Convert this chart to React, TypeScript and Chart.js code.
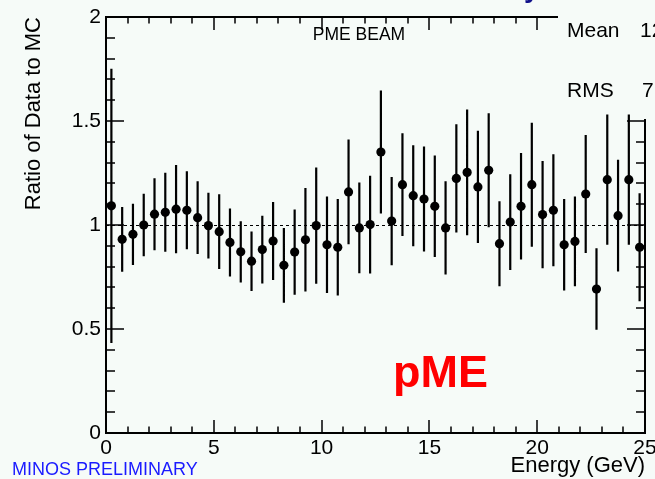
import React, { useEffect, useRef } from "react";
import { Chart, registerables } from "chart.js";

Chart.register(...registerables);

// Bin centres (GeV)
const energy = [
  0.25, 0.75, 1.25, 1.75, 2.25, 2.75, 3.25, 3.75, 4.25, 4.75,
  5.25, 5.75, 6.25, 6.75, 7.25, 7.75, 8.25, 8.75, 9.25, 9.75,
  10.25, 10.75, 11.25, 11.75, 12.25, 12.75, 13.25, 13.75, 14.25, 14.75,
  15.25, 15.75, 16.25, 16.75, 17.25, 17.75, 18.25, 18.75, 19.25, 19.75,
  20.25, 20.75, 21.25, 21.75, 22.25, 22.75, 23.25, 23.75, 24.25, 24.75,
];

// Ratio of data to MC
const ratio = [
  1.092, 0.931, 0.955, 1.0, 1.052, 1.061, 1.076, 1.071, 1.035, 0.997,
  0.968, 0.916, 0.871, 0.826, 0.882, 0.923, 0.806, 0.87, 0.929, 0.997,
  0.905, 0.893, 1.159, 0.986, 1.002, 1.351, 1.019, 1.194, 1.141, 1.125,
  1.09, 0.986, 1.224, 1.253, 1.183, 1.263, 0.91, 1.014, 1.09, 1.194,
  1.05, 1.071, 0.905, 0.921, 1.149, 0.692, 1.218, 1.045, 1.218, 0.893,
];

// Symmetric statistical errors
const errors = [
  0.659, 0.156, 0.147, 0.15, 0.173, 0.19, 0.212, 0.188, 0.175, 0.158,
  0.18, 0.163, 0.147, 0.143, 0.163, 0.187, 0.18, 0.205, 0.249, 0.279,
  0.232, 0.232, 0.252, 0.218, 0.235, 0.296, 0.212, 0.247, 0.243, 0.252,
  0.244, 0.224, 0.26, 0.302, 0.27, 0.274, 0.204, 0.23, 0.256, 0.298,
  0.258, 0.269, 0.22, 0.216, 0.284, 0.196, 0.313, 0.269, 0.313, 0.26,
];

const xLabel = "Energy (GeV)";
const yLabel = "Ratio of Data to MC";
const beamLabel = "PME BEAM";
const bigLabel = "pME";
const prelimLabel = "MINOS PRELIMINARY";
const statNames = ["Mean", "RMS"];
const statValues = ["12.35", "7.12"];

const FONT = "'Liberation Sans', Arial, Helvetica, sans-serif";
const BG = "#f6fbf8";

const decorPlugin = {
  id: "rootDecor",
  beforeDraw(chart: any) {
    const ctx = chart.ctx;
    ctx.save();
    ctx.fillStyle = BG;
    ctx.fillRect(0, 0, chart.width, chart.height);
    ctx.restore();
  },
  beforeDatasetsDraw(chart: any) {
    const ctx = chart.ctx;
    const xs = chart.scales.x;
    const ys = chart.scales.y;
    const a = chart.chartArea;
    ctx.save();
    ctx.strokeStyle = "#000";

    // dashed reference line at 1
    const y1 = Math.round(ys.getPixelForValue(1)) + 0.5;
    ctx.lineWidth = 1;
    ctx.setLineDash([3, 3]);
    ctx.beginPath();
    ctx.moveTo(a.left, y1);
    ctx.lineTo(a.right, y1);
    ctx.stroke();
    ctx.setLineDash([]);

    // frame
    ctx.lineWidth = 2;
    ctx.strokeRect(a.left, a.top, a.right - a.left, a.bottom - a.top);

    // x ticks (bottom & top)
    ctx.lineWidth = 1.5;
    ctx.beginPath();
    for (let v = 0; v <= 25; v++) {
      const px = Math.round(xs.getPixelForValue(v));
      const len = v % 5 === 0 ? 13 : 6.5;
      ctx.moveTo(px, a.bottom);
      ctx.lineTo(px, a.bottom - len);
      ctx.moveTo(px, a.top);
      ctx.lineTo(px, a.top + len);
    }
    // y ticks (left & right)
    for (let k = 0; k <= 20; k++) {
      const py = Math.round(ys.getPixelForValue(k / 10));
      const len = k % 5 === 0 ? 18 : 9;
      ctx.moveTo(a.left, py);
      ctx.lineTo(a.left + len, py);
      ctx.moveTo(a.right, py);
      ctx.lineTo(a.right - len, py);
    }
    ctx.stroke();

    // stats box (borderless) covering the top-right corner
    ctx.fillStyle = BG;
    ctx.fillRect(558, 0, chart.width - 558, 119);
    ctx.fillStyle = "#000";
    ctx.font = `21px ${FONT}`;
    ctx.textBaseline = "alphabetic";
    ctx.textAlign = "left";
    ctx.fillText(statNames[0], 567, 37);
    ctx.fillText(statValues[0], 640, 37);
    ctx.fillText(statNames[1], 567, 97);
    ctx.fillText(statValues[1], 642, 97);

    // error bars
    ctx.strokeStyle = "#000";
    ctx.lineWidth = 2.2;
    ctx.beginPath();
    for (let i = 0; i < energy.length; i++) {
      const px = xs.getPixelForValue(energy[i]);
      const lo = Math.max(0, ratio[i] - errors[i]);
      const hi = Math.min(2, ratio[i] + errors[i]);
      ctx.moveTo(px, ys.getPixelForValue(lo));
      ctx.lineTo(px, ys.getPixelForValue(hi));
    }
    ctx.stroke();
    ctx.restore();
  },
  afterDatasetsDraw(chart: any) {
    const ctx = chart.ctx;
    ctx.save();
    ctx.fillStyle = "#000";
    ctx.font = `17.5px ${FONT}`;
    ctx.textAlign = "center";
    ctx.textBaseline = "middle";
    ctx.fillText(beamLabel, 359, 35);

    ctx.fillStyle = "#ff0000";
    ctx.font = `bold 45px ${FONT}`;
    ctx.textAlign = "left";
    ctx.textBaseline = "alphabetic";
    ctx.fillText(bigLabel, 393, 387);

    ctx.fillStyle = "#1a1aff";
    ctx.font = `18px ${FONT}`;
    ctx.textBaseline = "middle";
    ctx.fillText(prelimLabel, 12, 470);

    // fragment of the slide title cut off at the top
    ctx.fillStyle = "#10108a";
    ctx.font = `bold 28px ${FONT}`;
    ctx.textBaseline = "alphabetic";
    ctx.fillText("y", 524, -3);
    ctx.restore();
  },
};

export default function App() {
  const ref = useRef<HTMLCanvasElement | null>(null);

  useEffect(() => {
    if (!ref.current) return;
    const chart = new Chart(ref.current, {
      type: "scatter",
      data: {
        datasets: [
          {
            data: energy.map((x, i) => ({ x, y: ratio[i] })),
            pointRadius: 4.6,
            pointBackgroundColor: "#000",
            pointBorderColor: "#000",
            pointBorderWidth: 0,
            showLine: false,
          },
        ],
      },
      options: {
        responsive: false,
        animation: false,
        devicePixelRatio: 1,
        layout: { padding: { top: 17, right: 10, left: 0, bottom: 0 } },
        plugins: {
          legend: { display: false },
          tooltip: { enabled: false },
        },
        scales: {
          x: {
            type: "linear",
            min: 0,
            max: 25,
            position: "bottom",
            grid: { display: false, drawTicks: false },
            border: { display: false },
            ticks: {
              stepSize: 5,
              padding: 3,
              color: "#000",
              maxRotation: 0,
              autoSkip: false,
              font: { family: FONT, size: 21 },
              callback: (v: any) => String(Number(v)),
            },
            title: {
              display: true,
              text: xLabel,
              align: "end",
              color: "#000",
              font: { family: FONT, size: 22 },
              padding: { top: 0, bottom: 0 },
            },
            afterFit(s: any) {
              s.height = 46;
              s.paddingLeft = 0;
              s.paddingRight = 0;
            },
          },
          y: {
            type: "linear",
            min: 0,
            max: 2,
            grid: { display: false, drawTicks: false },
            border: { display: false },
            ticks: {
              stepSize: 0.5,
              padding: 5,
              color: "#000",
              font: { family: FONT, size: 21 },
              callback: (v: any) => String(Number(v)),
            },
            title: {
              display: true,
              text: yLabel,
              align: "end",
              color: "#000",
              font: { family: FONT, size: 22 },
              padding: { top: 21, bottom: 0 },
            },
            afterFit(s: any) {
              s.width = 106;
              s.paddingTop = 0;
              s.paddingBottom = 0;
            },
          },
        },
      } as any,
      plugins: [decorPlugin],
    });
    return () => chart.destroy();
  }, []);

  return (
    <div style={{ position: "fixed", left: 0, top: 0, width: 655, height: 479, background: BG }}>
      <canvas ref={ref} width={655} height={479} style={{ display: "block" }} />
    </div>
  );
}
